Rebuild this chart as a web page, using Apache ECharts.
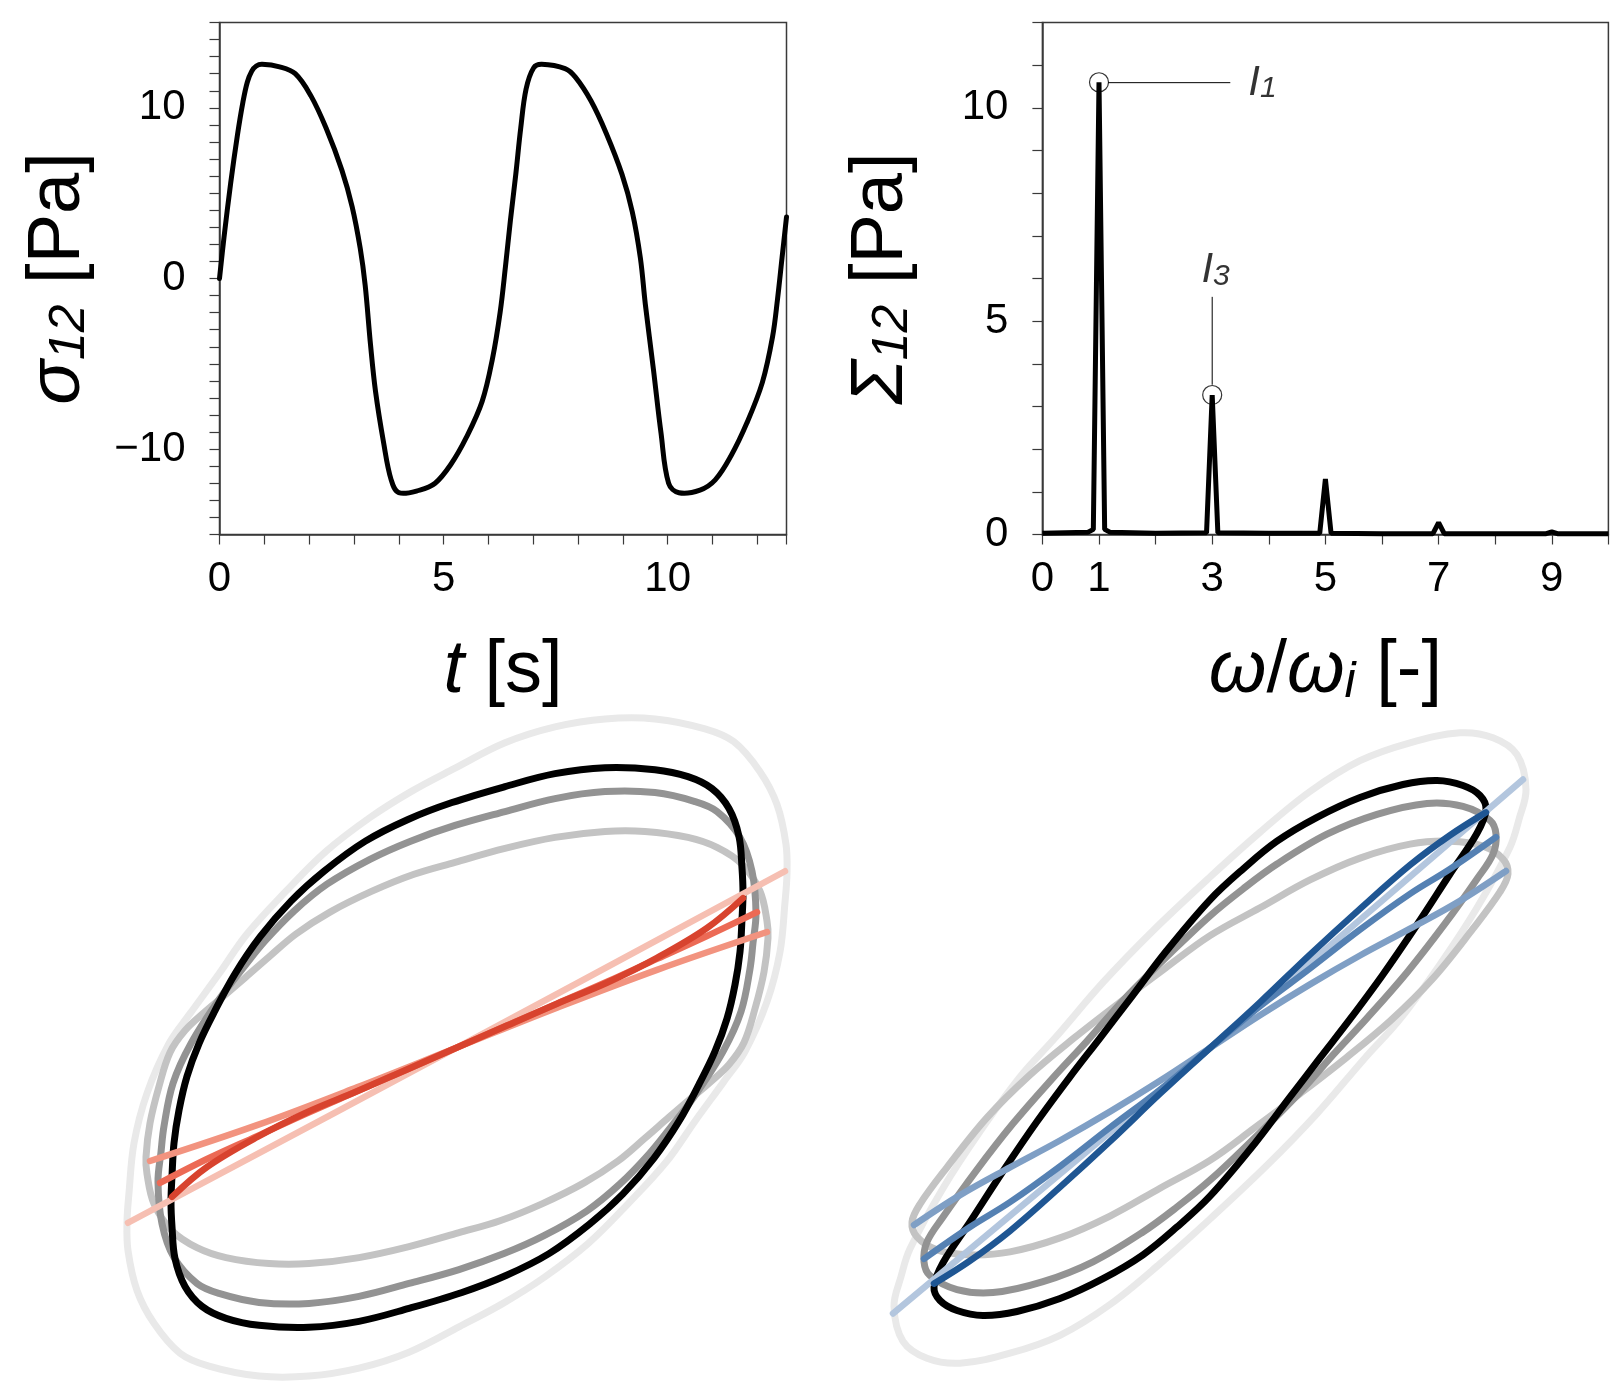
<!DOCTYPE html>
<html>
<head>
<meta charset="utf-8">
<script src="https://cdn.jsdelivr.net/npm/echarts@6/dist/echarts.min.js"></script>
<style>
html, body { margin: 0; padding: 0; background: #fff; }
#chart { width: 1624px; height: 1396px; }
</style>
</head>
<body>
<div id="chart"></div>
<script>
// ---- top left: shear stress signal sigma12(t)
var timeS = [0, 0.1, 0.25, 0.4, 0.52, 0.62, 0.72, 0.82, 0.95, 1.34, 1.69, 2.04, 2.38, 2.73, 2.96, 3.14, 3.25, 3.37, 3.48, 3.66, 3.83, 4.0,
  4.47, 4.81, 5.16, 5.51, 5.86, 6.09, 6.26, 6.38, 6.49, 6.61, 6.72, 6.84, 7.01, 7.19, 7.71, 7.94, 8.29, 8.63, 8.98, 9.21,
  9.39, 9.5, 9.68, 9.85, 10.02, 10.25, 10.72, 11.06, 11.41, 11.76, 12.11, 12.34, 12.45, 12.55, 12.65];
var sigma12 = [0, 2.4, 5.6, 8.4, 10.3, 11.5, 12.15, 12.45, 12.55, 12.4, 12.0, 10.7, 8.8, 6.35, 4.2, 1.76, -0.4, -3.9, -6.6, -9.6, -11.8, -12.55,
  -12.4, -12.0, -10.9, -9.3, -7.2, -4.7, -2.0, 0.7, 3.4, 6.1, 8.8, 11.1, 12.35, 12.55, 12.3, 11.8, 10.4, 8.5, 6.1, 3.9,
  1.2, -1.5, -5.3, -9.05, -12.0, -12.55, -12.4, -11.8, -10.4, -8.5, -6.1, -3.4, -1.2, 1.2, 3.6];
var timeTickLabels = [0, 5, 10];
var sigmaTickLabels = [-10, 0, 10];

// ---- top right: harmonic spectrum
var harmOmega = [0, 0.8, 0.9, 1.0, 1.1, 1.2, 2.0, 2.9, 3.0, 3.1, 4.0, 4.9, 5.0, 5.1, 6.0, 6.9, 7.0, 7.1, 8.0, 8.9, 9.0, 9.1, 10.0];
var harmSigma = [0.03, 0.05, 0.12, 10.6, 0.12, 0.05, 0.03, 0.04, 3.27, 0.04, 0.03, 0.03, 1.30, 0.03, 0.02, 0.02, 0.28, 0.02, 0.02, 0.02, 0.06, 0.02, 0.02];
var omegaTickLabels = [0, 1, 3, 5, 7, 9];
var harmTickLabels = [0, 5, 10];
var peakOmega = [1, 3];
var peakSigma = [10.6, 3.27];
var leaderI1 = [[1.16, 10.59], [3.32, 10.59]];
var leaderI3 = [[3, 3.51], [3, 5.57]];
var labelI1 = [3.63, 10.58];
var labelI3 = [2.80, 6.19];

// ---- bottom left: elastic Lissajous loops (strain, stress) and elastic stress
var loopL0 = [[-3.30,-1.75],[-3.28,-1.46],[-3.23,-0.96],[-3.10,-0.46],[-2.88,0.04],[-2.67,0.34],[-2.38,0.74],[-2.10,1.14],[-1.71,1.57],[-1.31,1.97],[-0.87,2.31],[-0.46,2.57],[-0.03,2.80],[0.48,3.06],[0.98,3.22],[1.48,3.30],[1.98,3.30],[2.48,3.20],[2.77,3.07],[3.03,2.77],[3.20,2.44],[3.29,2.04],[3.30,1.75],
  [3.28,1.46],[3.23,0.96],[3.10,0.46],[2.88,-0.04],[2.67,-0.34],[2.38,-0.74],[2.10,-1.14],[1.71,-1.57],[1.31,-1.97],[0.87,-2.31],[0.46,-2.57],[0.03,-2.80],[-0.48,-3.06],[-0.98,-3.22],[-1.48,-3.30],[-1.98,-3.30],[-2.48,-3.20],[-2.77,-3.07],[-3.03,-2.77],[-3.20,-2.44],[-3.29,-2.04],[-3.30,-1.75]];
var loopL1 = [[-3.11,-1.10],[-3.07,-0.76],[-2.98,-0.39],[-2.87,-0.05],[-2.72,0.17],[-2.53,0.35],[-2.33,0.52],[-2.12,0.70],[-1.88,0.91],[-1.61,1.14],[-1.27,1.36],[-0.85,1.57],[-0.43,1.74],[-0.02,1.86],[0.48,2.00],[0.98,2.11],[1.48,2.17],[1.88,2.17],[2.31,2.11],[2.60,2.01],[2.85,1.84],[3.03,1.57],[3.10,1.27],[3.11,1.10],
  [3.07,0.76],[2.98,0.39],[2.87,0.05],[2.72,-0.17],[2.53,-0.35],[2.33,-0.52],[2.12,-0.70],[1.88,-0.91],[1.61,-1.14],[1.27,-1.36],[0.85,-1.57],[0.43,-1.74],[0.02,-1.86],[-0.48,-2.00],[-0.98,-2.11],[-1.48,-2.17],[-1.88,-2.17],[-2.31,-2.11],[-2.60,-2.01],[-2.85,-1.84],[-3.03,-1.57],[-3.10,-1.27],[-3.11,-1.10]];
var loopL2 = [[-2.99,-1.35],[-2.96,-1.05],[-2.93,-0.79],[-2.84,-0.36],[-2.66,0.04],[-2.36,0.51],[-2.13,0.81],[-1.92,1.07],[-1.63,1.37],[-1.30,1.64],[-0.87,1.89],[-0.47,2.07],[-0.02,2.23],[0.48,2.37],[0.98,2.50],[1.48,2.57],[1.98,2.56],[2.38,2.47],[2.60,2.37],[2.83,2.11],[2.95,1.77],[2.99,1.35],
  [2.96,1.05],[2.93,0.79],[2.84,0.36],[2.66,-0.04],[2.36,-0.51],[2.13,-0.81],[1.92,-1.07],[1.63,-1.37],[1.30,-1.64],[0.87,-1.89],[0.47,-2.07],[0.02,-2.23],[-0.48,-2.37],[-0.98,-2.50],[-1.48,-2.57],[-1.98,-2.56],[-2.38,-2.47],[-2.60,-2.37],[-2.83,-2.11],[-2.95,-1.77],[-2.99,-1.35]];
var loopL3 = [[-2.86,-1.55],[-2.85,-1.29],[-2.83,-0.96],[-2.78,-0.63],[-2.70,-0.29],[-2.58,0.04],[-2.42,0.37],[-2.22,0.74],[-1.97,1.11],[-1.66,1.47],[-1.33,1.77],[-0.92,2.07],[-0.49,2.29],[-0.05,2.46],[0.48,2.62],[0.98,2.75],[1.48,2.81],[1.98,2.79],[2.31,2.72],[2.55,2.60],[2.72,2.40],[2.82,2.12],[2.85,1.80],[2.86,1.55],
  [2.85,1.29],[2.83,0.96],[2.78,0.63],[2.70,0.29],[2.58,-0.04],[2.42,-0.37],[2.22,-0.74],[1.97,-1.11],[1.66,-1.47],[1.33,-1.77],[0.92,-2.07],[0.49,-2.29],[0.05,-2.46],[-0.48,-2.62],[-0.98,-2.75],[-1.48,-2.81],[-1.98,-2.79],[-2.31,-2.72],[-2.55,-2.60],[-2.72,-2.40],[-2.82,-2.12],[-2.85,-1.80],[-2.86,-1.55]];
var elasticL0 = [[-3.29,-1.76],[0,0],[3.28,1.77]];
var elasticL1 = [[-3.07,-1.14],[-2.0,-0.78],[-1.0,-0.40],[0,0],[1.0,0.40],[2.0,0.78],[3.10,1.16]];
var elasticL2 = [[-2.97,-1.36],[-2.5,-1.12],[-2.0,-0.89],[-1.5,-0.66],[-1.0,-0.44],[-0.5,-0.22],[0,0],[0.5,0.22],[1.0,0.44],[1.5,0.66],[2.0,0.89],[2.5,1.12],[3.00,1.36]];
var elasticL3 = [[-2.85,-1.50],[-2.5,-1.20],[-2.0,-0.90],[-1.5,-0.65],[-1.0,-0.44],[-0.5,-0.22],[0,0],[0.5,0.22],[1.0,0.44],[1.5,0.65],[2.0,0.90],[2.5,1.20],[2.86,1.50]];

// ---- bottom right: viscous Lissajous loops (strain rate, stress) and viscous stress
var loopR0 = [[0.00,1.72],[0.50,2.17],[1.00,2.58],[1.50,2.89],[2.00,3.07],[2.50,3.17],[2.83,3.12],[3.07,2.95],[3.16,2.60],[3.09,2.30],[3.00,2.02],[2.67,1.41],[2.30,0.84],[1.90,0.29],[1.55,-0.10],[1.07,-0.66],[0.57,-1.18],
  [0.00,-1.72],[-0.50,-2.17],[-1.00,-2.58],[-1.50,-2.89],[-2.00,-3.07],[-2.50,-3.17],[-2.83,-3.12],[-3.07,-2.95],[-3.16,-2.60],[-3.09,-2.30],[-3.00,-2.02],[-2.67,-1.41],[-2.30,-0.84],[-1.90,-0.29],[-1.55,0.10],[-1.07,0.66],[-0.57,1.18],[0.00,1.72]];
var loopR1 = [[0.00,1.13],[0.50,1.41],[1.00,1.69],[1.50,1.91],[2.00,2.05],[2.40,2.08],[2.73,2.03],[2.93,1.90],[2.98,1.75],[2.90,1.57],[2.63,1.20],[2.23,0.70],[1.80,0.27],[1.36,-0.10],[0.90,-0.46],[0.45,-0.80],
  [0.00,-1.13],[-0.50,-1.41],[-1.00,-1.69],[-1.50,-1.91],[-2.00,-2.05],[-2.40,-2.08],[-2.73,-2.03],[-2.93,-1.90],[-2.98,-1.75],[-2.90,-1.57],[-2.63,-1.20],[-2.23,-0.70],[-1.80,-0.27],[-1.36,0.10],[-0.90,0.46],[-0.45,0.80],[0.00,1.13]];
var loopR2 = [[0.00,1.33],[0.33,1.60],[0.67,1.85],[1.17,2.15],[1.67,2.35],[2.17,2.46],[2.53,2.43],[2.80,2.29],[2.86,2.15],[2.83,1.95],[2.67,1.70],[2.35,1.25],[1.97,0.76],[1.57,0.30],[1.23,-0.07],[0.85,-0.50],[0.40,-0.95],
  [0.00,-1.33],[-0.33,-1.60],[-0.67,-1.85],[-1.17,-2.15],[-1.67,-2.35],[-2.17,-2.46],[-2.53,-2.43],[-2.80,-2.29],[-2.86,-2.15],[-2.83,-1.95],[-2.67,-1.70],[-2.35,-1.25],[-1.97,-0.76],[-1.57,-0.30],[-1.23,0.07],[-0.85,0.50],[-0.40,0.95],[0.00,1.33]];
var loopR3 = [[0.00,1.49],[0.33,1.80],[0.67,2.08],[1.07,2.32],[1.50,2.52],[1.93,2.65],[2.27,2.69],[2.53,2.64],[2.70,2.54],[2.76,2.40],[2.67,2.16],[2.40,1.75],[2.07,1.24],[1.73,0.74],[1.40,0.29],[1.10,-0.10],[0.78,-0.52],[0.44,-0.97],
  [0.00,-1.49],[-0.33,-1.80],[-0.67,-2.08],[-1.07,-2.32],[-1.50,-2.52],[-1.93,-2.65],[-2.27,-2.69],[-2.53,-2.64],[-2.70,-2.54],[-2.76,-2.40],[-2.67,-2.16],[-2.40,-1.75],[-2.07,-1.24],[-1.73,-0.74],[-1.40,-0.29],[-1.10,0.10],[-0.78,0.52],[-0.44,0.97],[0.00,1.49]];
var viscousR0 = [[-3.17,-2.67],[0,0],[3.13,2.70]];
var viscousR1 = [[-2.96,-1.78],[-2.5,-1.48],[-2.0,-1.20],[-1.5,-0.93],[-1.0,-0.64],[-0.5,-0.33],[0,0],[0.5,0.33],[1.0,0.64],[1.5,0.93],[2.0,1.20],[2.5,1.48],[2.96,1.78]];
var viscousR2 = [[-2.86,-2.12],[-2.4,-1.80],[-2.0,-1.55],[-1.5,-1.19],[-1.0,-0.80],[-0.5,-0.42],[0,0],[0.5,0.42],[1.0,0.80],[1.5,1.19],[2.0,1.55],[2.4,1.80],[2.86,2.12]];
var viscousR3 = [[-2.76,-2.37],[-2.4,-2.14],[-2.0,-1.84],[-1.5,-1.40],[-1.0,-0.94],[-0.5,-0.46],[0,0],[0.5,0.46],[1.0,0.94],[1.5,1.40],[2.0,1.84],[2.4,2.14],[2.76,2.37]];

var loopColors = ['#e9e9e9', '#c3c3c3', '#939393', '#000000'];
var redColors = ['#f6bfb2', '#f2937f', '#ec6a55', '#d8432e'];
var blueColors = ['#b3c6de', '#7f9fc5', '#5581b3', '#1f5693'];

var FONT = '"Liberation Sans", Arial, Helvetica, sans-serif';
var axisColor = '#3a3a3a';

var nameRich = {
  it: { fontStyle: 'italic', fontSize: 74, fontFamily: FONT, color: '#000', lineHeight: 74 },
  sub: { fontStyle: 'italic', fontSize: 50, fontFamily: FONT, color: '#000', lineHeight: 35, verticalAlign: 'bottom' },
  n: { fontSize: 74, fontFamily: FONT, color: '#000', lineHeight: 74 }
};
var labelRich = {
  I: { fontStyle: 'italic', fontSize: 42, fontFamily: FONT, color: '#000', lineHeight: 42 },
  s: { fontStyle: 'italic', fontSize: 30, fontFamily: FONT, color: '#000', lineHeight: 16, verticalAlign: 'bottom' }
};

function onlyTicks(list) {
  return function (v) {
    return list.indexOf(v) >= 0 ? String(v).replace('-', '\u2212') : '';
  };
}

function frameAxis(extra) {
  var ax = {
    type: 'value',
    axisLine: { show: true, onZero: false, lineStyle: { color: axisColor, width: 1.5 } },
    axisTick: { show: true, inside: false, length: 10, lineStyle: { color: axisColor, width: 1.2 } },
    splitLine: { show: false },
    nameLocation: 'middle',
    nameTextStyle: { fontSize: 74, fontFamily: FONT, color: '#000', rich: nameRich }
  };
  for (var k in extra) ax[k] = extra[k];
  return ax;
}

function tickLabel(list, margin) {
  return { fontSize: 42, fontFamily: FONT, color: '#000', margin: margin, formatter: onlyTicks(list) };
}

// smooth curve through the data points, positioned with the axes (api.coord)
function smoothCurve(data, color, width, idx, closed) {
  return {
    type: 'custom', coordinateSystem: 'cartesian2d', xAxisIndex: idx, yAxisIndex: idx,
    data: data, encode: { x: 0, y: 1 }, silent: true, animation: false,
    renderItem: function (params, api) {
      if (params.dataIndex !== 0) return;
      var pts = data.map(function (d) { return api.coord(d); });
      if (closed) pts.pop(); // last point repeats the first one
      return {
        type: closed ? 'polygon' : 'polyline',
        shape: { points: pts, smooth: 0.36 },
        style: { fill: 'none', stroke: color, lineWidth: width, lineJoin: 'round', lineCap: 'round' }
      };
    }
  };
}

var sigmaData = timeS.map(function (t, i) { return [t, sigma12[i]]; });
var harmData = harmOmega.map(function (w, i) { return [w, harmSigma[i]]; });
var peakData = peakOmega.map(function (w, i) { return [w, peakSigma[i]]; });

var series = [];
series.push(smoothCurve(sigmaData, '#000', 5, 0, false));
series.push({
  type: 'line', xAxisIndex: 1, yAxisIndex: 1, data: harmData, symbol: 'none', silent: true, animation: false,
  lineStyle: { color: '#000', width: 5, join: 'bevel', cap: 'butt' }
});
series.push({
  type: 'scatter', xAxisIndex: 1, yAxisIndex: 1, data: peakData, symbol: 'circle', symbolSize: 19,
  silent: true, animation: false, z: 5,
  itemStyle: { color: 'rgba(0,0,0,0)', borderColor: '#000', borderWidth: 1.2 }
});
[leaderI1, leaderI3].forEach(function (d) {
  series.push({
    type: 'line', xAxisIndex: 1, yAxisIndex: 1, data: d, symbol: 'none', silent: true, animation: false,
    lineStyle: { color: '#000', width: 1 }
  });
});
[[labelI1, '{I|I}{s|1}'], [labelI3, '{I|I}{s|3}']].forEach(function (p) {
  series.push({
    type: 'scatter', xAxisIndex: 1, yAxisIndex: 1, symbolSize: 1, silent: true, animation: false,
    itemStyle: { color: 'rgba(0,0,0,0)' },
    data: [{ value: p[0], label: { show: true, position: 'right', distance: 0, formatter: p[1], rich: labelRich } }]
  });
});

[loopL0, loopL1, loopL2, loopL3].forEach(function (d, i) { series.push(smoothCurve(d, loopColors[i], 7, 2, true)); });
[elasticL0, elasticL1, elasticL2, elasticL3].forEach(function (d, i) { series.push(smoothCurve(d, redColors[i], 6.5, 2, false)); });
[loopR0, loopR1, loopR2, loopR3].forEach(function (d, i) { series.push(smoothCurve(d, loopColors[i], 7, 3, true)); });
[viscousR0, viscousR1, viscousR2, viscousR3].forEach(function (d, i) { series.push(smoothCurve(d, blueColors[i], 6.5, 3, false)); });

var frameGrid = { show: true, borderColor: axisColor, borderWidth: 1.5, backgroundColor: 'rgba(0,0,0,0)' };

var option = {
  animation: false,
  backgroundColor: '#fff',
  textStyle: { fontFamily: FONT },
  grid: [
    Object.assign({ left: 219.5, top: 22.5, width: 567, height: 512 }, frameGrid),
    Object.assign({ left: 1042.4, top: 22.5, width: 566, height: 512 }, frameGrid),
    { left: 107, top: 699, width: 700, height: 700 },
    { left: 860, top: 700, width: 700, height: 700 }
  ],
  xAxis: [
    frameAxis({ gridIndex: 0, min: 0, max: 12.65, interval: 1, axisLabel: tickLabel(timeTickLabels, 24),
      name: '{it|t}{n| [s]}', nameGap: 100 }),
    frameAxis({ gridIndex: 1, min: 0, max: 10, interval: 1, axisLabel: tickLabel(omegaTickLabels, 24),
      name: '{it|\u03c9}{n|/}{it|\u03c9}{sub|i}{n| [-]}', nameGap: 100 }),
    { type: 'value', gridIndex: 2, min: -3.5, max: 3.5, show: false },
    { type: 'value', gridIndex: 3, min: -3.5, max: 3.5, show: false }
  ],
  yAxis: [
    frameAxis({ gridIndex: 0, min: -15, max: 15, interval: 1, axisLabel: tickLabel(sigmaTickLabels, 34),
      name: '{it|\u03c3}{sub|12}{n| [Pa]}', nameGap: 124, nameRotate: 90 }),
    frameAxis({ gridIndex: 1, min: 0, max: 12, interval: 1, axisLabel: tickLabel(harmTickLabels, 34),
      name: '{it|\u03a3}{sub|12}{n| [Pa]}', nameGap: 124, nameRotate: 90 }),
    { type: 'value', gridIndex: 2, min: -3.5, max: 3.5, show: false },
    { type: 'value', gridIndex: 3, min: -3.5, max: 3.5, show: false }
  ],
  series: series
};

var chart = echarts.init(document.getElementById('chart'), null, { renderer: 'canvas' });
chart.setOption(option);
</script>
</body>
</html>
